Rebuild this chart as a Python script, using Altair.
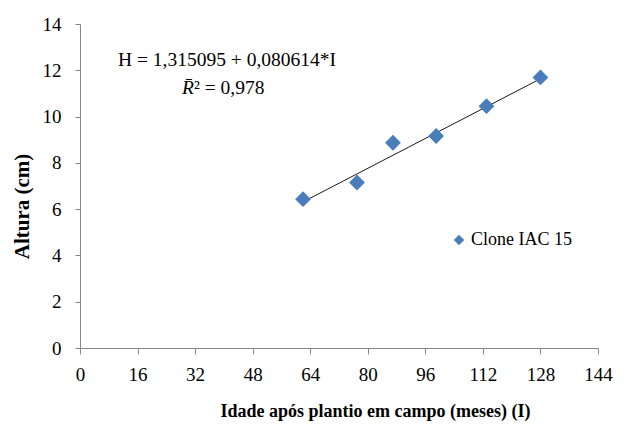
import altair as alt
import pandas as pd

# Plant height of clone IAC 15 by age after field planting
idade = [62, 77, 87, 99, 113, 128]
altura = [6.43, 7.15, 8.87, 9.16, 10.45, 11.69]
serie = "Clone IAC 15"

# Fitted linear model H = a + b*I
a, b = 1.315095, 0.080614
x_ticks = list(range(0, 145, 16))
y_ticks = list(range(0, 15, 2))

pts = pd.DataFrame({"idade": idade, "altura": altura, "serie": [serie] * len(idade)})
fit = pd.DataFrame({"idade": [idade[0], idade[-1]]})
fit["altura"] = a + b * fit["idade"]

FONT = "Liberation Serif"
AX = "#868686"

x_enc = alt.X(
    "idade:Q",
    scale=alt.Scale(domain=[0, 144], nice=False),
    axis=alt.Axis(
        values=x_ticks, title="Idade após plantio em campo (meses) (I)",
        grid=False, domainColor=AX, tickColor=AX, tickSize=6,
        labelFont=FONT, labelFontSize=19, labelColor="black", labelPadding=11,
        titleFont=FONT, titleFontSize=18, titleFontWeight="bold", titleColor="black",
        titleX=295, titleY=54, titleAlign="center", titleBaseline="top",
        labelFlush=False,
    ),
)
y_enc = alt.Y(
    "altura:Q",
    scale=alt.Scale(domain=[0, 14], nice=False),
    axis=alt.Axis(
        values=y_ticks, title="Altura (cm)",
        grid=False, domainColor=AX, tickColor=AX, tickSize=5,
        labelFont=FONT, labelFontSize=19, labelColor="black", labelPadding=14,
        titleFont=FONT, titleFontSize=21, titleFontWeight="bold", titleColor="black",
        titleX=-58, titleY=182, titleAlign="center", titleBaseline="middle",
        labelFlush=False,
    ),
)

points = alt.Chart(pts).mark_point(
    shape="diamond", filled=True, size=250, opacity=1
).encode(
    x=x_enc,
    y=y_enc,
    color=alt.Color(
        "serie:N",
        scale=alt.Scale(range=["#4A7EBB"]),
        legend=alt.Legend(
            title=None, orient="none", legendX=370, legendY=207,
            symbolType="diamond", symbolSize=110, symbolStrokeWidth=0,
            labelFont=FONT, labelFontSize=18, labelColor="black", labelOffset=3,
        ),
    ),
)

line = alt.Chart(fit).mark_line(color="#1a1a1a", strokeWidth=1).encode(
    x="idade:Q", y="altura:Q"
)

eq = alt.Chart(pd.DataFrame({"t": ["H = 1,315095  + 0,080614*I"]})).mark_text(
    font=FONT, fontSize=19.5, align="center", baseline="middle", color="black"
).encode(x=alt.value(147), y=alt.value(36), text="t:N")

r_sym = alt.Chart(pd.DataFrame({"t": ["R\u0304"]})).mark_text(
    font=FONT, fontSize=19.5, fontStyle="italic", align="right", baseline="middle", color="black"
).encode(x=alt.value(114), y=alt.value(64), text="t:N")

r_val = alt.Chart(pd.DataFrame({"t": ["² = 0,978"]})).mark_text(
    font=FONT, fontSize=19.5, align="left", baseline="middle", color="black"
).encode(x=alt.value(114), y=alt.value(64), text="t:N")

chart = (
    alt.layer(line, points, eq, r_sym, r_val)
    .properties(
        width=518, height=324,
        autosize=alt.AutoSizeParams(type="none"),
        padding={"left": 80, "top": 24, "right": 28, "bottom": 80},
        background="white",
    )
    .configure_view(stroke=None)
)

chart.save("out.html", embed_options={"renderer": "svg", "actions": False})
